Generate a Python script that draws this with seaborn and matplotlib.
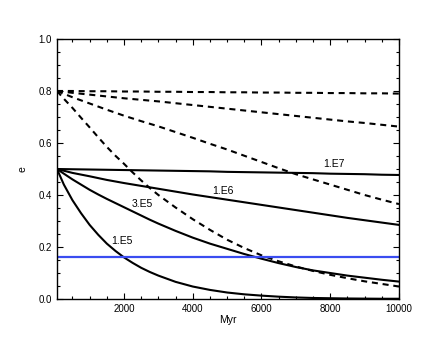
import numpy as np
import pandas as pd
import seaborn as sns
import matplotlib.pyplot as plt
from matplotlib.ticker import MultipleLocator

# time grids (Myr)
time = [50, 500, 1000, 1500, 2000, 2500, 3000, 3500, 4000, 4500, 5000,
        5500, 6000, 6500, 7000, 7500, 8000, 8500, 9000, 9500, 10000]
time_fine = [50, 250, 500, 750, 1000, 1250, 1500, 1750, 2000, 2250, 2500, 2750,
             3000, 3500, 4000, 4500, 5000, 5500, 6000, 6500, 7000, 7500, 8000,
             8500, 9000, 9500, 10000]

# solid curves, e0 = 0.5 (fine grid for the steep ones)
e_1e5 = [0.5, 0.44, 0.38, 0.33, 0.285, 0.247, 0.213, 0.185, 0.16, 0.139, 0.12, 0.104,
         0.09, 0.066, 0.048, 0.035, 0.025, 0.018, 0.013, 0.009, 0.006, 0.004, 0.003,
         0.002, 0.0015, 0.001, 0.001]
e_3e5 = [0.5, 0.482, 0.46, 0.44, 0.42, 0.402, 0.385, 0.369, 0.353, 0.337, 0.321, 0.305,
         0.29, 0.262, 0.236, 0.213, 0.193, 0.173, 0.155, 0.138, 0.123, 0.11, 0.1,
         0.09, 0.082, 0.074, 0.067]
e_1e6 = [0.5, 0.485, 0.472, 0.458, 0.446, 0.435, 0.424, 0.413, 0.402, 0.392, 0.382,
         0.372, 0.362, 0.352, 0.342, 0.332, 0.322, 0.312, 0.303, 0.294, 0.285]
e_1e7 = [0.5, 0.499, 0.498, 0.497, 0.496, 0.495, 0.494, 0.493, 0.492, 0.491, 0.489,
         0.488, 0.487, 0.486, 0.485, 0.484, 0.482, 0.481, 0.48, 0.478, 0.477]

# dashed curves, e0 = 0.8
d_top = [0.8, 0.8, 0.799, 0.799, 0.798, 0.798, 0.797, 0.797, 0.796, 0.796, 0.795,
         0.795, 0.794, 0.794, 0.793, 0.793, 0.792, 0.792, 0.791, 0.791, 0.79]
d_2 = [0.8, 0.793, 0.786, 0.779, 0.772, 0.766, 0.76, 0.753, 0.746, 0.739, 0.732,
       0.725, 0.718, 0.711, 0.704, 0.697, 0.69, 0.683, 0.677, 0.67, 0.663]
d_3 = [0.8, 0.776, 0.752, 0.728, 0.705, 0.684, 0.664, 0.642, 0.62, 0.597, 0.575,
       0.551, 0.527, 0.503, 0.48, 0.46, 0.44, 0.42, 0.4, 0.382, 0.365]
d_4 = [0.8, 0.77, 0.735, 0.697, 0.66, 0.622, 0.585, 0.551, 0.52, 0.487, 0.456, 0.427,
       0.4, 0.352, 0.307, 0.266, 0.228, 0.196, 0.168, 0.145, 0.125, 0.108, 0.093,
       0.08, 0.068, 0.058, 0.048]

blue_level = 0.163

curve_labels = ["1.E5", "3.E5", "1.E6", "1.E7"]
label_pos = [(1930, 0.225), (2520, 0.365), (4870, 0.417), (8120, 0.52)]

plt.rcParams['font.family'] = ['Liberation Sans', 'DejaVu Sans']

fig = plt.figure(figsize=(4.36, 3.45), dpi=100)
ax = fig.add_axes([0.1307, 0.1333, 0.7844, 0.7537])

for ys in [e_1e5, e_3e5]:
    sns.lineplot(x=time_fine, y=ys, ax=ax, color='black', lw=1.5)
for ys in [e_1e6, e_1e7]:
    sns.lineplot(x=time, y=ys, ax=ax, color='black', lw=1.5)

for tt, ys in [(time, d_top), (time, d_2), (time, d_3), (time_fine, d_4)]:
    sns.lineplot(x=tt, y=ys, ax=ax, color='black', lw=1.5)
    ax.lines[-1].set_dashes((2.9, 2.3))

ax.axhline(blue_level, color='#3a4cf0', lw=1.6)

for txt, (xp, yp) in zip(curve_labels, label_pos):
    ax.text(xp, yp, txt, fontsize=7.5, ha='center', va='center')

ax.set_xlim(50, 10000)
ax.set_ylim(0, 1)
ax.xaxis.set_major_locator(MultipleLocator(2000))
ax.xaxis.set_minor_locator(MultipleLocator(500))
ax.yaxis.set_major_locator(MultipleLocator(0.2))
ax.yaxis.set_minor_locator(MultipleLocator(0.05))
ax.yaxis.set_major_formatter(plt.FormatStrFormatter('%.1f'))
ax.tick_params(which='both', direction='in', top=True, right=True,
               labelsize=7, width=0.8)
ax.tick_params(which='major', length=4.5)
ax.tick_params(which='minor', length=2.5)
for s in ax.spines.values():
    s.set_linewidth(1.0)

ax.set_xlabel("Myr", fontsize=7.5, labelpad=1)
ax.set_ylabel("e", fontsize=7.5, labelpad=8)

fig.savefig("out.png", dpi=100)
